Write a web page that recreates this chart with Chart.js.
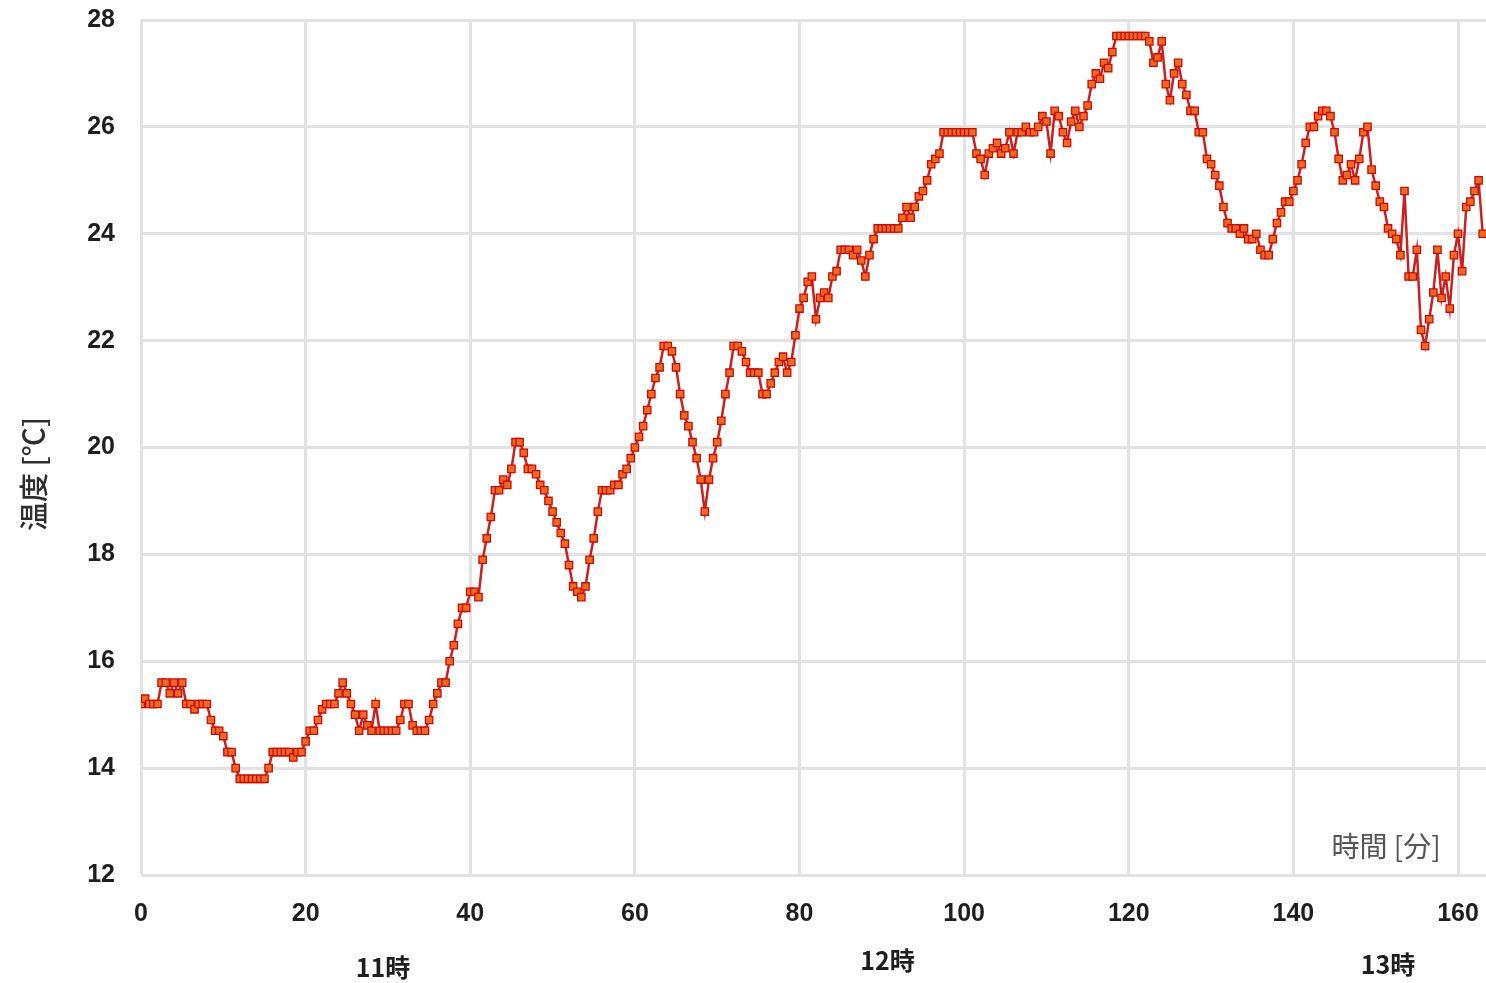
<!DOCTYPE html>
<html lang="ja">
<head>
<meta charset="utf-8">
<title>温度の推移</title>
<script src="https://cdn.jsdelivr.net/npm/chart.js@4.4.1/dist/chart.umd.min.js"></script>
<style>
  html, body { margin: 0; padding: 0; background: #ffffff; }
  #wrap { width: 1486px; height: 983px; }
</style>
</head>
<body>
<div id="wrap"><canvas id="c" width="1486" height="983"></canvas></div>
<script>
// Temperature log, one reading every half minute from 0 to 163 min
const sampleStepMin = 0.5;
const temperatures = [
  15.2, 15.3, 15.2, 15.2, 15.2, 15.6, 15.6, 15.4, 15.6, 15.4,
  15.6, 15.2, 15.2, 15.1, 15.2, 15.2, 15.2, 14.9, 14.7, 14.7,
  14.6, 14.3, 14.3, 14.0, 13.8, 13.8, 13.8, 13.8, 13.8, 13.8,
  13.8, 14.0, 14.3, 14.3, 14.3, 14.3, 14.3, 14.2, 14.3, 14.3,
  14.5, 14.7, 14.7, 14.9, 15.1, 15.2, 15.2, 15.2, 15.4, 15.6,
  15.4, 15.2, 15.0, 14.7, 15.0, 14.8, 14.7, 15.2, 14.7, 14.7,
  14.7, 14.7, 14.7, 14.9, 15.2, 15.2, 14.8, 14.7, 14.7, 14.7,
  14.9, 15.2, 15.4, 15.6, 15.6, 16.0, 16.3, 16.7, 17.0, 17.0,
  17.3, 17.3, 17.2, 17.9, 18.3, 18.7, 19.2, 19.2, 19.4, 19.3,
  19.6, 20.1, 20.1, 19.9, 19.6, 19.6, 19.5, 19.3, 19.2, 19.0,
  18.8, 18.6, 18.4, 18.2, 17.8, 17.4, 17.3, 17.2, 17.4, 17.9,
  18.3, 18.8, 19.2, 19.2, 19.2, 19.3, 19.3, 19.5, 19.6, 19.8,
  20.0, 20.2, 20.4, 20.7, 21.0, 21.3, 21.5, 21.9, 21.9, 21.8,
  21.5, 21.0, 20.6, 20.4, 20.1, 19.8, 19.4, 18.8, 19.4, 19.8,
  20.1, 20.5, 21.0, 21.4, 21.9, 21.9, 21.8, 21.6, 21.4, 21.4,
  21.4, 21.0, 21.0, 21.2, 21.4, 21.6, 21.7, 21.4, 21.6, 22.1,
  22.6, 22.8, 23.1, 23.2, 22.4, 22.8, 22.9, 22.8, 23.2, 23.3,
  23.7, 23.7, 23.7, 23.6, 23.7, 23.5, 23.2, 23.6, 23.9, 24.1,
  24.1, 24.1, 24.1, 24.1, 24.1, 24.3, 24.5, 24.3, 24.5, 24.7,
  24.8, 25.0, 25.3, 25.4, 25.5, 25.9, 25.9, 25.9, 25.9, 25.9,
  25.9, 25.9, 25.9, 25.5, 25.4, 25.1, 25.5, 25.6, 25.7, 25.5,
  25.6, 25.9, 25.5, 25.9, 25.9, 26.0, 25.9, 25.9, 26.0, 26.2,
  26.1, 25.5, 26.3, 26.2, 25.9, 25.7, 26.1, 26.3, 26.0, 26.2,
  26.4, 26.8, 27.0, 26.9, 27.2, 27.1, 27.4, 27.7, 27.7, 27.7,
  27.7, 27.7, 27.7, 27.7, 27.7, 27.6, 27.2, 27.3, 27.6, 26.8,
  26.5, 27.0, 27.2, 26.8, 26.6, 26.3, 26.3, 25.9, 25.9, 25.4,
  25.3, 25.1, 24.9, 24.5, 24.2, 24.1, 24.1, 24.0, 24.1, 23.9,
  23.9, 24.0, 23.7, 23.6, 23.6, 23.9, 24.2, 24.4, 24.6, 24.6,
  24.8, 25.0, 25.3, 25.7, 26.0, 26.0, 26.2, 26.3, 26.3, 26.2,
  25.9, 25.4, 25.0, 25.1, 25.3, 25.0, 25.4, 25.9, 26.0, 25.2,
  24.9, 24.6, 24.5, 24.1, 24.0, 23.9, 23.6, 24.8, 23.2, 23.2,
  23.7, 22.2, 21.9, 22.4, 22.9, 23.7, 22.8, 23.2, 22.6, 23.6,
  24.0, 23.3, 24.5, 24.6, 24.8, 25.0, 24.0
];

const xTickValues = [0, 20, 40, 60, 80, 100, 120, 140, 160];
const yTickValues = [12, 14, 16, 18, 20, 22, 24, 26, 28];
const hourLabels = ['11時', '12時', '13時'];
const hourLabelMinutes = [29.4, 90.7, 151.5];
const xAxisName = '時間 [分]';
const yAxisName = '温度 [℃]';

const points = temperatures.map((v, i) => ({ x: i * sampleStepMin, y: v }));

const tickFont = { family: '"Liberation Sans", Arial, sans-serif', size: 25, weight: 'bold' };
const gridColor = '#e2e2e2';

// Axis names and hour markers, drawn in the chart's coordinate system
const annotations = {
  id: 'annotations',
  afterDraw(chart) {
    const { ctx, scales } = chart;
    const xs = scales.x;
    ctx.save();
    // y-axis name, rotated
    ctx.fillStyle = '#2e2e2e';
    ctx.font = '500 29px "Noto Sans CJK JP", sans-serif';
    ctx.textAlign = 'center';
    ctx.textBaseline = 'middle';
    ctx.translate(34, 474);
    ctx.rotate(-Math.PI / 2);
    ctx.fillText(yAxisName, 0, 0);
    ctx.restore();

    ctx.save();
    // x-axis name inside the plot, bottom right
    ctx.fillStyle = '#555555';
    ctx.font = '28px "Noto Sans CJK JP", sans-serif';
    ctx.textAlign = 'center';
    ctx.textBaseline = 'middle';
    ctx.fillText(xAxisName, 1386, 846);

    // hour markers under the minute ticks
    ctx.fillStyle = '#1e1e1e';
    ctx.font = 'bold 25px "Noto Sans CJK JP", sans-serif';
    const hourY = [967, 960, 964];
    hourLabels.forEach((t, i) => {
      ctx.fillText(t, xs.getPixelForValue(hourLabelMinutes[i]), hourY[i]);
    });
    ctx.restore();
  }
};

new Chart(document.getElementById('c'), {
  type: 'line',
  data: {
    datasets: [{
      data: points,
      borderColor: '#cc1f1f',
      borderWidth: 2.5,
      pointStyle: 'rect',
      pointRadius: 5.2,
      pointBackgroundColor: '#ec6a22',
      pointBorderColor: '#d20a00',
      pointBorderWidth: 1.3,
      tension: 0,
      fill: false
    }]
  },
  options: {
    responsive: false,
    devicePixelRatio: 1,
    animation: false,
    events: [],
    layout: { autoPadding: false, padding: { top: 20, right: 0, left: 0, bottom: 0 } },
    plugins: {
      legend: { display: false },
      tooltip: { enabled: false }
    },
    scales: {
      x: {
        type: 'linear',
        min: 0,
        max: 163.4,
        afterFit(scale) {
          scale.height = 108;
          scale.paddingLeft = 0;
          scale.paddingRight = 0;
        },
        afterBuildTicks(scale) { scale.ticks = xTickValues.map(v => ({ value: v })); },
        border: { display: false },
        grid: { color: gridColor, lineWidth: 3, drawTicks: false },
        ticks: {
          font: tickFont,
          color: '#1e1e1e',
          padding: 24,
          maxRotation: 0,
          autoSkip: false
        }
      },
      y: {
        type: 'linear',
        min: 12,
        max: 28,
        afterFit(scale) {
          scale.width = 141;
          scale.paddingTop = 0;
          scale.paddingBottom = 0;
        },
        afterBuildTicks(scale) { scale.ticks = yTickValues.map(v => ({ value: v })); },
        border: { display: false },
        grid: { color: gridColor, lineWidth: 3, drawTicks: false },
        ticks: {
          font: tickFont,
          color: '#1e1e1e',
          padding: 26
        }
      }
    }
  },
  plugins: [annotations]
});
</script>
</body>
</html>
